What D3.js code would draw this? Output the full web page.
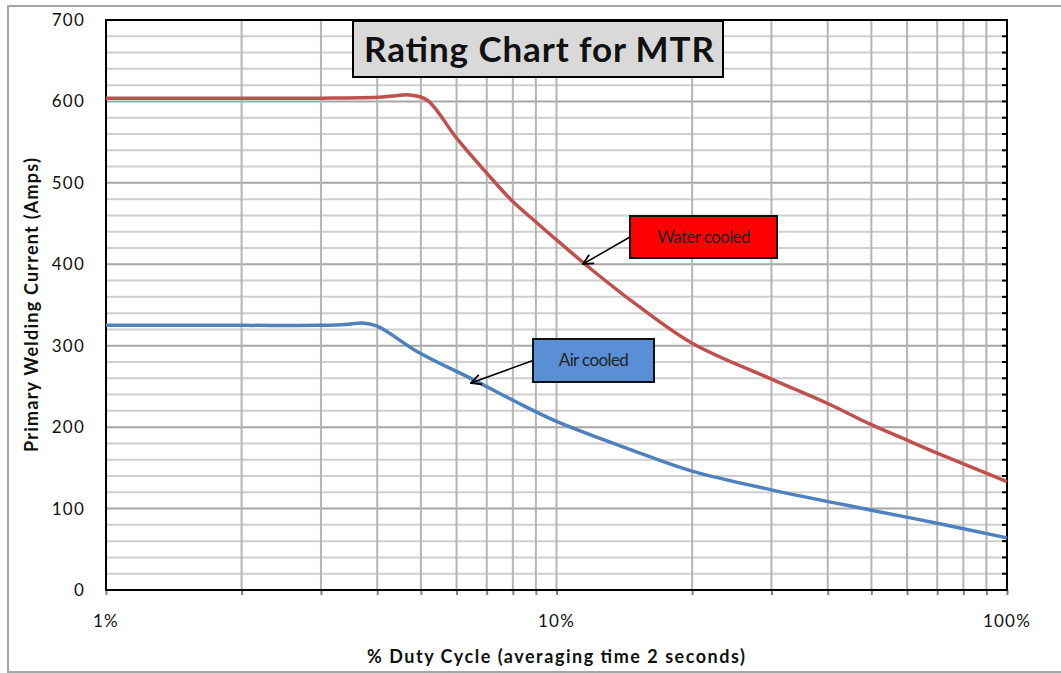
<!DOCTYPE html>
<meta charset="utf-8">
<style>
body { margin: 0; background: #fff; }
text { font-family: Lato, "Open Sans", sans-serif; }
</style>
<div id="chart"></div>
<script src="https://d3js.org/d3.v7.min.js"></script>
<script>

// Water cooled curve (duty % vs amps)
var waterDuty = [1, 2, 3, 4, 4.4, 4.7, 5.15, 6, 7, 8, 9, 10, 12, 15, 20, 30, 40, 50, 60, 70, 80, 100];
var waterAmps = [604, 604, 604, 605, 607, 608, 602, 555, 512, 477, 452, 430, 393, 351, 303, 259, 229, 203, 184, 168, 155, 133];

// Air cooled curve
var airDuty = [1, 2, 3, 3.4, 3.7, 4.0, 4.9, 6.5, 8, 10, 15, 20, 30, 50, 70, 100];
var airAmps = [325, 325, 325, 326, 328, 324, 293, 259, 233, 207, 170, 146, 123, 98, 82, 64];

var yTicks = [0, 100, 200, 300, 400, 500, 600, 700];
var xLabels = [1, 10, 100];
var xGrid = [2, 3, 4, 5, 6, 7, 8, 9, 10, 20, 30, 40, 50, 60, 70, 80, 90, 100];

var W = 1061, H = 673;
var margin = {top: 20, right: 54, bottom: 83, left: 106},
    width = W - margin.left - margin.right,
    height = H - margin.top - margin.bottom;

var svg = d3.select("#chart")
  .append("svg")
    .attr("width", W)
    .attr("height", H);

// outer chart border
svg.append("rect")
  .attr("x", 8).attr("y", 6)
  .attr("width", 1070).attr("height", 666)
  .attr("fill", "none")
  .attr("stroke", "#a6a6a6")
  .attr("stroke-width", 2);

var g = svg.append("g")
  .attr("transform", "translate(" + margin.left + "," + margin.top + ")");

var x = d3.scaleLog()
  .domain([1, 100])
  .range([0, width]);
var y = d3.scaleLinear()
  .domain([0, 700])
  .range([height, 0]);

// horizontal grid, every 20
var hLines = d3.range(20, 700, 20);
g.selectAll(".hgrid")
  .data(hLines)
  .enter().append("line")
    .attr("x1", 0).attr("x2", width)
    .attr("y1", function(d) { return y(d); })
    .attr("y2", function(d) { return y(d); })
    .attr("stroke", function(d) { return d % 100 == 0 ? "#a6a6a6" : "#cfcfcf"; })
    .attr("stroke-width", 2);

// vertical grid
g.selectAll(".vgrid")
  .data(xGrid.slice(0, -1))
  .enter().append("line")
    .attr("x1", function(d) { return x(d); })
    .attr("x2", function(d) { return x(d); })
    .attr("y1", 0).attr("y2", height)
    .attr("stroke", "#b5b5b5")
    .attr("stroke-width", 2);

// right side inner ticks
g.selectAll(".rtick")
  .data(hLines)
  .enter().append("line")
    .attr("x1", width - 5).attr("x2", width)
    .attr("y1", function(d) { return y(d); })
    .attr("y2", function(d) { return y(d); })
    .attr("stroke", "#000")
    .attr("stroke-width", 2);

// bottom axis ticks
g.append("g")
  .attr("transform", "translate(0," + height + ")")
  .call(d3.axisBottom(x).tickValues([1].concat(xGrid)).tickSize(5).tickFormat(""))
  .call(function(a) {
    a.select(".domain").remove();
    a.selectAll("line").attr("stroke", "#808080").attr("stroke-width", 2);
  });

// plot frame
g.append("rect")
  .attr("width", width).attr("height", height)
  .attr("fill", "none")
  .attr("stroke", "#000")
  .attr("stroke-width", 2);

// y tick labels
g.selectAll(".ylab")
  .data(yTicks)
  .enter().append("text")
    .attr("x", -21)
    .attr("y", function(d) { return y(d); })
    .attr("dy", "0.35em")
    .attr("text-anchor", "end")
    .attr("font-size", 17)
    .attr("letter-spacing", 1.2)
    .attr("fill", "#111")
    .text(function(d) { return d; });

// x tick labels
g.selectAll(".xlab")
  .data(xLabels)
  .enter().append("text")
    .attr("x", function(d) { return x(d); })
    .attr("y", height + 37)
    .attr("text-anchor", "middle")
    .attr("font-size", 17)
    .attr("letter-spacing", 1.2)
    .attr("fill", "#111")
    .text(function(d) { return d + "%"; });

// axis titles
svg.append("text")
  .attr("x", 556)
  .attr("y", 663)
  .attr("text-anchor", "middle")
  .attr("font-size", 18)
  .attr("font-weight", "bold")
  .attr("fill", "#111")
  .attr("textLength", 378)
  .text("% Duty Cycle (averaging time 2 seconds)");

svg.append("text")
  .attr("transform", "translate(38," + (margin.top + height / 2) + ") rotate(-90)")
  .attr("text-anchor", "middle")
  .attr("font-size", 18)
  .attr("font-weight", "bold")
  .attr("fill", "#111")
  .attr("textLength", 294)
  .text("Primary Welding Current (Amps)");

// curves
var line = d3.line()
  .x(function(d) { return x(d[0]); })
  .y(function(d) { return y(d[1]); })
  .curve(d3.curveCatmullRom.alpha(0.5));

g.append("path")
  .datum(d3.zip(waterDuty, waterAmps))
  .attr("d", line)
  .attr("fill", "none")
  .attr("stroke", "#c0504d")
  .attr("stroke-width", 3.5);

g.append("path")
  .datum(d3.zip(airDuty, airAmps))
  .attr("d", line)
  .attr("fill", "none")
  .attr("stroke", "#4f81bd")
  .attr("stroke-width", 3.5);

// arrow marker
svg.append("defs").append("marker")
  .attr("id", "arr")
  .attr("viewBox", "0 0 12 12")
  .attr("refX", 11).attr("refY", 6)
  .attr("markerWidth", 12).attr("markerHeight", 12)
  .attr("markerUnits", "userSpaceOnUse")
  .attr("orient", "auto")
  .append("path")
    .attr("d", "M1,1 L11,6 L1,11")
    .attr("fill", "none")
    .attr("stroke", "#000")
    .attr("stroke-width", 1.8);

// title box
svg.append("rect")
  .attr("x", 353).attr("y", 21)
  .attr("width", 370).attr("height", 56)
  .attr("fill", "#d9d9d9")
  .attr("stroke", "#000")
  .attr("stroke-width", 2);
svg.append("text")
  .attr("x", 539).attr("y", 62)
  .attr("text-anchor", "middle")
  .attr("font-size", 35)
  .attr("font-weight", "bold")
  .attr("fill", "#111")
  .attr("textLength", 350)
  .text("Rating Chart for MTR");

// callouts
function callout(bx, by, bw, bh, fill, label, px, py) {
  svg.append("line")
    .attr("x1", bx).attr("y1", by + bh / 2)
    .attr("x2", px).attr("y2", py)
    .attr("stroke", "#000")
    .attr("stroke-width", 1.5)
    .attr("marker-end", "url(#arr)");
  svg.append("rect")
    .attr("x", bx).attr("y", by)
    .attr("width", bw).attr("height", bh)
    .attr("fill", fill)
    .attr("stroke", "#111")
    .attr("stroke-width", 2);
  svg.append("text")
    .attr("x", bx + bw / 2).attr("y", by + bh / 2)
    .attr("dy", "0.35em")
    .attr("text-anchor", "middle")
    .attr("font-size", 17)
    .attr("letter-spacing", -0.6)
    .attr("fill", "#222")
    .text(label);
}
callout(630, 216, 147, 42, "#ff0000", "Water cooled", 583, 264);
callout(533, 339, 121, 43, "#5a8fd6", "Air cooled", 471, 383);

</script>
